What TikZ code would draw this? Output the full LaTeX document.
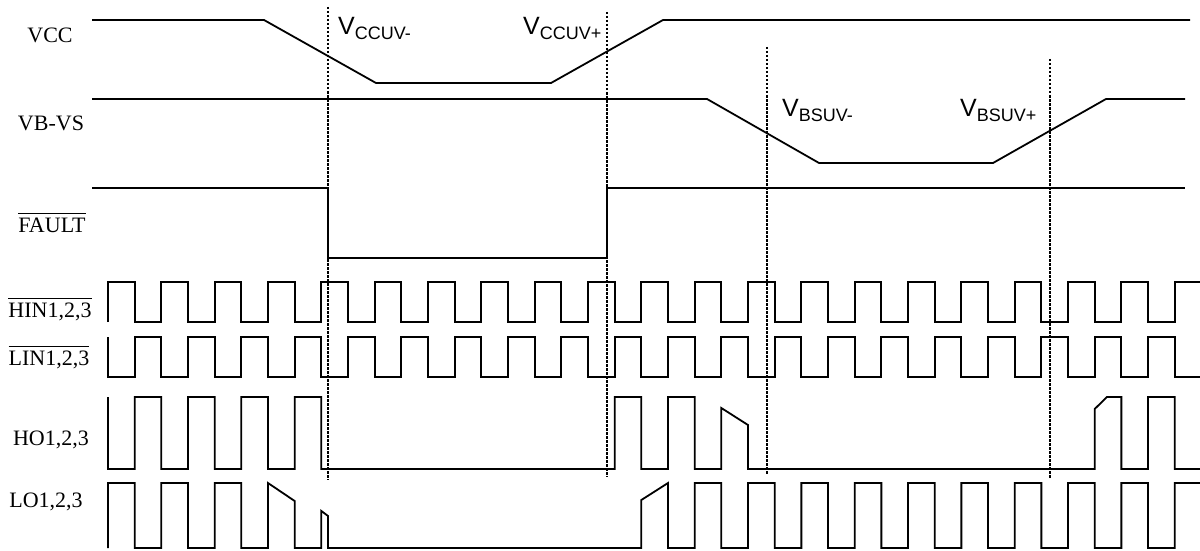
\documentclass[tikz,border=0pt]{standalone}
\usepackage{fontspec}
\setmainfont{Liberation Serif}
\newfontfamily\arialfont{Liberation Sans}

\tikzset{
    wave/.style={line width=1.8pt, line join=miter},
    uvline/.style={line width=1.5pt, dash pattern=on 2.5pt off 1.5pt},
    sig/.style={anchor=base, inner sep=0pt, font=\fontsize{22}{22}\selectfont},
    uv/.style={anchor=base west, inner sep=0pt, font=\arialfont\fontsize{25}{25}\selectfont}
}
\newcommand{\uvsub}[1]{{\fontsize{18}{18}\selectfont\raisebox{-5pt}{#1}}}
\newcommand{\barsig}[1]{$\overline{\mbox{#1}\rule{0pt}{17pt}}$}

\begin{document}
\begin{tikzpicture}[x=1pt,y=-1pt]
    \useasboundingbox (0,0) rectangle (1200,551);
    \clip (0,0) rectangle (1200,551);

    % signal names
    \node[sig] (lvcc) at (50,43) {VCC};
    \node[sig] (lvbs) at (51,130) {VB-VS};
    \node[sig] (lflt) at (52,232) {\barsig{FAULT}};
    \node[sig] (lhin) at (50,317) {\barsig{HIN1,2,3}};
    \node[sig] (llin) at (49,365) {\barsig{LIN1,2,3}};
    \node[sig] (lho) at (51,445) {HO1,2,3};
    \node[sig] (llo) at (46,507) {LO1,2,3};

    % thresholds
    \node[uv] (ccm) at (338,35) {V\uvsub{CCUV-}};
    \node[uv] (ccp) at (523,35) {V\uvsub{CCUV+}};
    \node[uv] (bsm) at (782,117) {V\uvsub{BSUV-}};
    \node[uv] (bsp) at (960,117) {V\uvsub{BSUV+}};

    \draw[uvline] (328,7) -- (328,480);
    \draw[uvline] (607,12) -- (607,477);
    \draw[uvline] (767,47) -- (767,475);
    \draw[uvline] (1050,59) -- (1050,479);

    % supplies and fault
    \draw[wave] (92,20) -- (264,20) -- (376,83) -- (551,83) -- (663,20) -- (1190,20);
    \draw[wave] (92,99) -- (707,99) -- (819,163) -- (993,163) -- (1106,99) -- (1185,99);
    \draw[wave] (92,188) -- (328,188) -- (328,258) -- (607,258) -- (607,188) -- (1185,188);

    % inputs and outputs, one step per half period
    \begin{scope}[shift={(108pt,0pt)}, x=26.667pt]
        \draw[wave] (0,322) foreach \k in {0,2,...,40} {
            -- (\k,282) -- (\k+1,282) -- (\k+1,322) -- (\k+2,322) };
        \draw[wave] (0,337) foreach \k in {0,2,...,40} {
            -- (\k,377) -- (\k+1,377) -- (\k+1,337) -- (\k+2,337) };
        \draw[wave] (0,397) -- (0,469) foreach \k in {1,3,5,7,19,21} {
            -- (\k,469) -- (\k,397) -- (\k+1,397) -- (\k+1,469) }
            -- (23,469) -- (23,408) -- (24,425) -- (24,469)
            -- (37,469) -- (37,409) -- (37.46,397) -- (38,397) -- (38,469)
            -- (39,469) -- (39,397) -- (40,397) -- (40,469) -- (42,469);
        \draw[wave] (0,548) foreach \k in {0,2,4} {
            -- (\k,483) -- (\k+1,483) -- (\k+1,548) -- (\k+2,548) }
            -- (6,483) -- (7,501) -- (7,548) -- (8,548) -- (8,511) -- (8.25,516) -- (8.25,548)
            -- (20,548) -- (20,500) -- (21,483) -- (21,548)
            foreach \k in {22,24,...,40} {
            -- (\k,548) -- (\k,483) -- (\k+1,483) -- (\k+1,548) } -- (42,548);
    \end{scope}
\end{tikzpicture}
\end{document}
